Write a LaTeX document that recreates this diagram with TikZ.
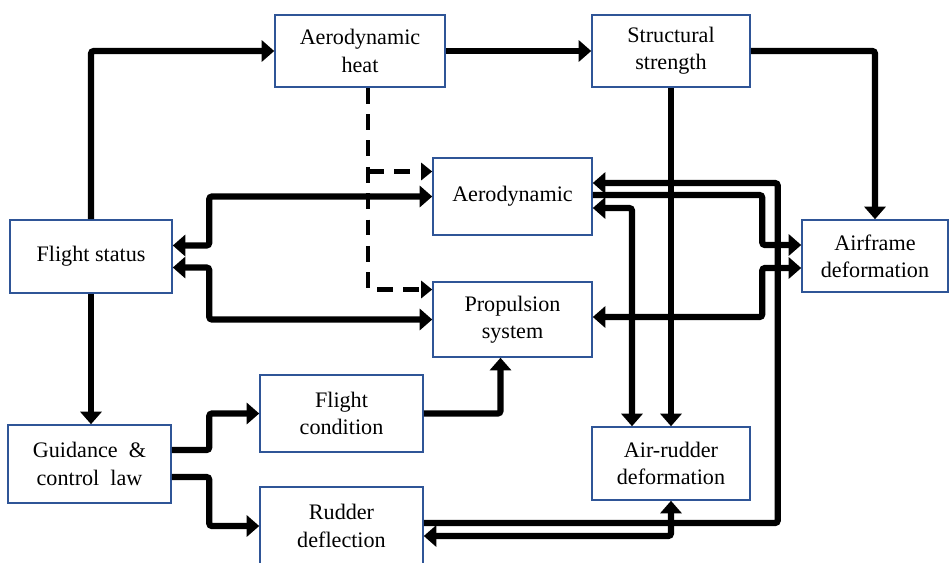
\documentclass[tikz,border=0pt]{standalone}
\usepackage{fontspec}
\setmainfont{Liberation Serif}
\usetikzlibrary{arrows.meta,calc}

\definecolor{boxblue}{RGB}{47,85,151}

\begin{document}
\begin{tikzpicture}[x=0.02cm, y=-0.02cm,
  block/.style={draw=boxblue, line width=0.9pt, fill=white, align=center,
    inner sep=2pt, font=\fontsize{12.6}{15.5}\selectfont},
  flow/.style={line width=3.5pt, rounded corners=1.5pt,
    -{Triangle[length=0.25cm,width=0.42cm]}},
  biflow/.style={line width=3.5pt, rounded corners=1.5pt,
    {Triangle[length=0.25cm,width=0.42cm]}-{Triangle[length=0.25cm,width=0.42cm]}},
  dashflow/.style={line width=2.8pt, dash pattern=on 9pt off 6pt,
    -{Triangle[length=0.22cm,width=0.34cm]}}]
  \useasboundingbox (0,0) rectangle (950,562);

  \node[block, minimum width=3.4cm,  minimum height=1.44cm] (heat)      at (360,51)    {Aerodynamic\\heat};
  \node[block, minimum width=3.16cm, minimum height=1.44cm] (strength)  at (671,51)    {Structural\\strength};
  \node[block, minimum width=3.18cm, minimum height=1.54cm] (aero)      at (512.5,196.5) {Aerodynamic};
  \node[block, minimum width=3.18cm, minimum height=1.5cm]  (prop)      at (512.5,319.5) {Propulsion\\system};
  \node[block, minimum width=3.24cm, minimum height=1.46cm] (status)    at (91,256.5)  {Flight status};
  \node[block, minimum width=2.92cm, minimum height=1.44cm] (airframe)  at (875,256)   {Airframe\\deformation};
  \node[block, minimum width=3.26cm, minimum height=1.56cm] (guidance)  at (89.5,464)  {Guidance \ \&\\control \ law};
  \node[block, minimum width=3.26cm, minimum height=1.54cm] (cond)      at (341.5,413.5) {Flight\\condition};
  \node[block, minimum width=3.26cm, minimum height=1.56cm] (rudder)    at (341.5,526) {Rudder\\deflection};
  \node[block, minimum width=3.16cm, minimum height=1.46cm] (airrudder) at (671,463.5) {Air-rudder\\deformation};

  % top row
  \draw[flow] (status.north) |- (heat.west);
  \draw[flow] (heat.east) -- (strength.west);
  \draw[flow] (strength.east) -| (airframe.north);
  \draw[flow] (strength.south) -- (airrudder.north);

  % heat influence (dashed)
  \coordinate (d0) at ($(heat.south)+(8,0)$);
  \coordinate (d1) at ($(aero.west)+(0,-25)$);
  \draw[dashflow] (d0) |- ($(prop.west)+(0,-30)$);
  \draw[dashflow] (d0 |- d1) -- (d1);

  % flight status loops
  \draw[biflow] ($(status.east)+(0,-11)$) -| ($(aero.west)+(-223,0)$) -- (aero.west);
  \draw[biflow] ($(status.east)+(0,11)$) -| ($(prop.west)+(-223,0)$) -- (prop.west);
  \draw[flow] (status.south) -- (status.south |- guidance.north);

  % guidance outputs
  \draw[flow] ($(guidance.east)+(0,-14)$) -| ($(cond.west)+(-50,0)$) -- (cond.west);
  \draw[flow] ($(guidance.east)+(0,13)$) -| ($(rudder.west)+(-50,0)$) -- (rudder.west);
  \draw[flow] (cond.east) -| ($(prop.south)+(-12,0)$);

  % right side couplings
  \draw[flow] ($(rudder.east)+(0,-3)$) -| ($(aero.east)+(185,-13.5)$) -- ($(aero.east)+(0,-13.5)$);
  \draw[flow] ($(aero.east)+(0,-1.5)$) -| ($(airframe.west)+(-39,-11)$) -- ($(airframe.west)+(0,-11)$);
  \draw[biflow] ($(aero.east)+(0,11.5)$) -| ($(airrudder.north)+(-39,0)$);
  \draw[biflow] ($(prop.east)+(0,-2.5)$) -| ($(airframe.west)+(-39,12)$) -- ($(airframe.west)+(0,12)$);
  \draw[biflow] (airrudder.south) |- ($(rudder.east)+(0,10)$);
\end{tikzpicture}
\end{document}
